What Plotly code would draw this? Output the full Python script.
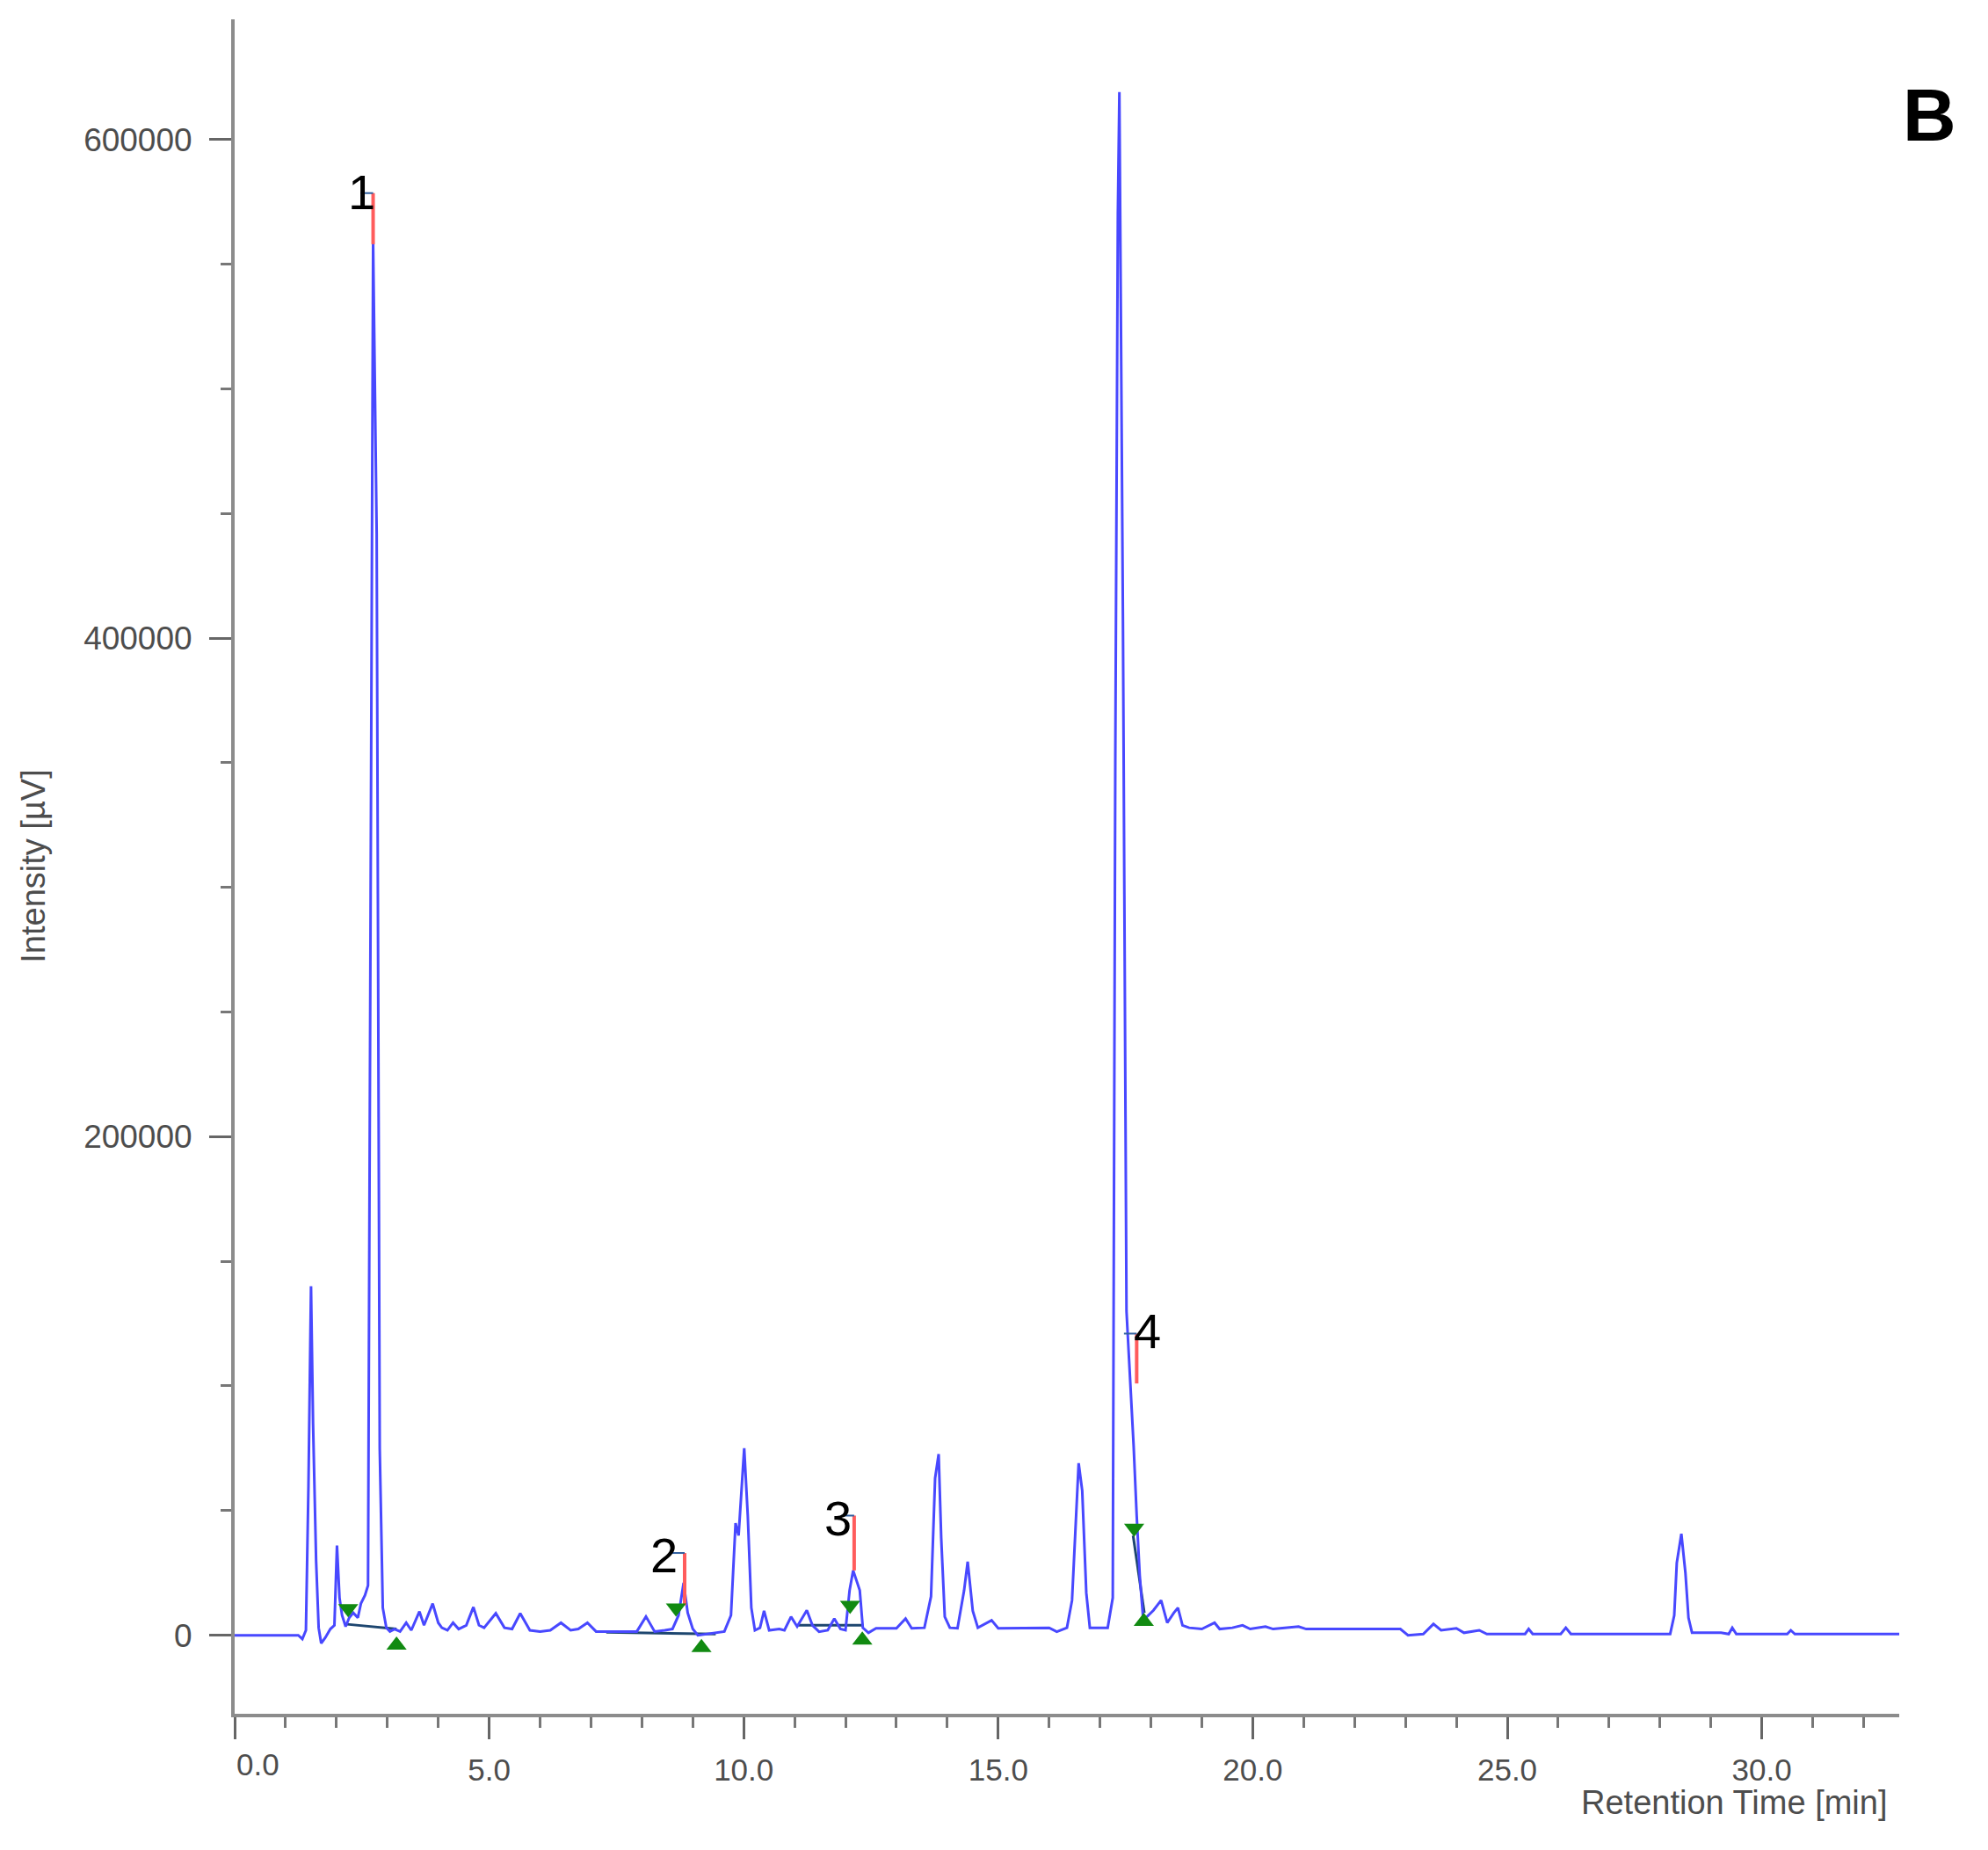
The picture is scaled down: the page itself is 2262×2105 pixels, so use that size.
import plotly.graph_objects as go

# chromatogram trace (retention time in min, intensity in µV)
rt = [0.00, 1.25, 1.33, 1.40, 1.45, 1.50, 1.54, 1.60, 1.65, 1.70, 1.78, 1.88, 1.96, 2.01, 2.06,
      2.11, 2.18, 2.25, 2.33, 2.42, 2.48, 2.56, 2.62, 2.66, 2.72, 2.79, 2.85, 2.91, 2.98, 3.05,
      3.14, 3.25, 3.37, 3.47, 3.63, 3.72, 3.89, 4.00, 4.07, 4.18, 4.29, 4.40, 4.55, 4.69, 4.80,
      4.90, 5.13, 5.30, 5.45, 5.61, 5.80, 6.00, 6.20, 6.41, 6.60, 6.75, 6.93, 7.10, 7.90, 8.08,
      8.25, 8.45, 8.60, 8.72, 8.82, 8.90, 9.00, 9.10, 9.40, 9.62, 9.75, 9.84, 9.90, 10.01, 10.08,
      10.15, 10.22, 10.32, 10.40, 10.50, 10.70, 10.80, 10.93, 11.05, 11.24, 11.35, 11.48, 11.65,
      11.78, 11.90, 12.00, 12.08, 12.15, 12.22, 12.28, 12.34, 12.45, 12.60, 13.00, 13.18, 13.30,
      13.55, 13.68, 13.76, 13.83, 13.88, 13.95, 14.05, 14.20, 14.33, 14.40, 14.50, 14.60, 14.87,
      15.00, 16.00, 16.15, 16.35, 16.45, 16.58, 16.65, 16.73, 16.80, 17.15, 17.25, 17.30, 17.35,
      17.38, 17.45, 17.52, 17.60, 17.66, 17.72, 17.78, 17.85, 17.95, 18.05, 18.20, 18.32, 18.45,
      18.53, 18.62, 18.75, 19.00, 19.25, 19.35, 19.60, 19.80, 19.95, 20.25, 20.40, 20.90, 21.05,
      22.90, 23.05, 23.35, 23.55, 23.70, 24.00, 24.15, 24.45, 24.60, 25.35, 25.42, 25.50, 26.05,
      26.15, 26.25, 28.20, 28.28, 28.33, 28.42, 28.50, 28.56, 28.63, 29.20, 29.35, 29.42, 29.50,
      30.50, 30.57, 30.65, 32.70]
intensity = [0, 0, -1500, 2000, 60000, 140000, 85000, 30000, 3000, -3200, -1000, 2500, 4000, 36000, 15000,
             8000, 3500, 7000, 9000, 7000, 12700, 16000, 20000, 246000, 559000, 442000, 75000, 11000, 3000, 1500,
             2500, 1500, 5000, 2000, 9500, 4000, 12700, 5000, 3000, 2000, 5000, 2500, 4000, 11300, 4000,
             3000, 8800, 3000, 2500, 8800, 2000, 1500, 2000, 5000, 2000, 2500, 5000, 1500, 1500, 7500,
             1500, 2000, 2500, 8000, 21000, 9000, 2500, 0, 1000, 1500, 8000, 45000, 40000, 75000, 48000,
             11000, 2000, 3000, 9800, 2000, 2500, 2000, 7400, 3500, 10000, 4000, 1400, 2000,
             6700, 2500, 2000, 18000, 26000, 22000, 18000, 3000, 1000, 2800, 2800, 6700, 2800,
             3000, 15500, 63000, 72700, 39000, 7400, 3000, 2800, 18000, 29500, 9800, 3000, 6000,
             2800, 3000, 1400, 3000, 14000, 69000, 58000, 17000, 3000, 3000, 15000, 352000, 570000,
             619000, 407000, 130000, 101000, 76000, 48000, 24000, 6000, 8000, 10000, 14000, 5000, 9000,
             11000, 4000, 3000, 2500, 5000, 2500, 3000, 4000, 2500, 3500, 2500, 3500, 2500,
             2500, 0, 500, 4500, 2000, 2800, 1000, 2000, 500, 500, 2500, 500, 500,
             3000, 500, 500, 8000, 29000, 40700, 25000, 7000, 1000, 1000, 500, 3000, 500,
             500, 2000, 500, 500]

# integrated peaks
peak_labels = ["1", "2", "3", "4"]
label_rt = [2.49, 8.43, 11.86, 17.93]
label_int = [579000, 32000, 46800, 122000]
apex_rt = [2.72, 8.84, 12.17, 17.72]
apex_low = [558000, 12000, 26000, 101000]
apex_high = [578500, 33000, 48000, 121000]
start_rt = [2.23, 8.67, 12.09, 17.67]
start_int = [10700, 11000, 12000, 43000]
end_rt = [3.18, 9.17, 12.33, 17.86]
end_int = [-4000, -5000, -2000, 5500]
base_from_rt = [2.16, 7.30, 11.06, 17.65]
base_from_int = [4500, 1200, 4000, 40000]
base_to_rt = [3.18, 9.45, 12.35, 17.87]
base_to_int = [2500, 500, 4000, 9000]

x_ticks = [0, 5, 10, 15, 20, 25, 30]
x_ticktext = ["", "5.0", "10.0", "15.0", "20.0", "25.0", "30.0"]
y_ticks = [0, 200000, 400000, 600000]
y_ticktext = ["0", "200000", "400000", "600000"]

fig = go.Figure()

# integration baselines
bx, by = [], []
for a, b, c, d in zip(base_from_rt, base_from_int, base_to_rt, base_to_int):
    bx += [a, c, None]
    by += [b, d, None]
fig.add_trace(go.Scatter(x=bx, y=by, mode='lines',
                         line=dict(color='#1d466f', width=3), showlegend=False))

# signal
fig.add_trace(go.Scatter(x=rt, y=intensity, mode='lines',
                         line=dict(color='#4848ff', width=3), showlegend=False))

# apex markers (red) and short leader ticks
ax, ay, hx, hy = [], [], [], []
for t, lo, hi in zip(apex_rt, apex_low, apex_high):
    ax += [t, t, None]
    ay += [lo, hi, None]
    hx += [t - 0.25, t, None]
    hy += [hi, hi, None]
fig.add_trace(go.Scatter(x=ax, y=ay, mode='lines',
                         line=dict(color='#ff5c5c', width=4), showlegend=False))
fig.add_trace(go.Scatter(x=hx, y=hy, mode='lines',
                         line=dict(color='#2f5f9f', width=2), showlegend=False))

# peak start / end flags
fig.add_trace(go.Scatter(x=start_rt, y=start_int, mode='markers',
                         marker=dict(symbol='triangle-down', size=20, color='#118a11'),
                         showlegend=False))
fig.add_trace(go.Scatter(x=end_rt, y=end_int, mode='markers',
                         marker=dict(symbol='triangle-up', size=20, color='#118a11'),
                         showlegend=False))

for lab, t, v in zip(peak_labels, label_rt, label_int):
    fig.add_annotation(x=t, y=v, text=lab, showarrow=False,
                       font=dict(size=56, color='black', family='Liberation Sans'))

tick_font = dict(size=35, color='#4d4d4d', family='Liberation Sans, Arial, sans-serif')
title_font = dict(size=38, color='#4d4d4d', family='Liberation Sans, Arial, sans-serif')

fig.add_annotation(x=0, y=0, xref='x', yref='paper', text="0.0", showarrow=False,
                   xanchor='left', yanchor='top', yshift=-36, font=tick_font)
fig.add_annotation(x=-0.12, y=0.5, xref='paper', yref='paper', text="Intensity [µV]",
                   textangle=-90, showarrow=False, xshift=-25, font=title_font)
fig.add_annotation(x=0.9937, y=-0.0524, xref='paper', yref='paper', text="Retention Time [min]",
                   xanchor='right', yanchor='middle', showarrow=False, font=title_font)
fig.add_annotation(x=1.0355, y=0.9689, xref='paper', yref='paper', text="<b>B</b>",
                   showarrow=False, font=dict(size=84, color='black', family='Liberation Sans'))

axis_common = dict(showline=True, linecolor='#8c8c8c', linewidth=4, mirror=False,
                   showgrid=False, zeroline=False, ticks='outside', ticklen=25, tickwidth=3,
                   tickcolor='#666666', tickfont=tick_font)

fig.update_layout(
    width=2262, height=2105,
    margin=dict(l=267, r=101, t=22, b=155),
    plot_bgcolor='white', paper_bgcolor='white',
    xaxis=dict(range=[0, 32.7], tickvals=x_ticks, ticktext=x_ticktext, ticklabelstandoff=5,
               minor=dict(dtick=1, tick0=0, ticks='outside', ticklen=12, tickwidth=3,
                          tickcolor='#777777'),
               **axis_common),
    yaxis=dict(range=[-31500, 648200], tickvals=y_ticks, ticktext=y_ticktext, ticklabelstandoff=12,
               tickfont=None, minor=dict(dtick=50000, tick0=0, ticks='outside', ticklen=12,
                                         tickwidth=3, tickcolor='#777777'),
               **{k: v for k, v in axis_common.items() if k != 'tickfont'}),
)
fig.update_yaxes(tickfont=dict(size=37, color='#4d4d4d', family='Liberation Sans, Arial, sans-serif'))

fig.write_html("out.html", config={'displayModeBar': False},
               post_script="document.body.style.margin='0';document.body.style.overflow='hidden';")
